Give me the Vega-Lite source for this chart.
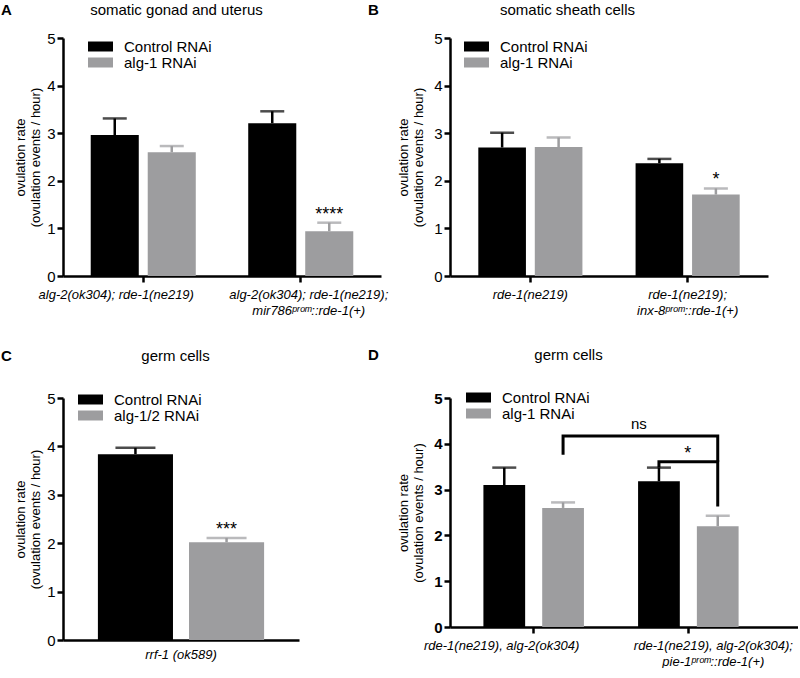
{
  "$schema": "https://vega.github.io/schema/vega-lite/v6.json",
  "padding": {"left": 1, "top": 2, "right": 0, "bottom": 0},
  "config": {
    "font": "Liberation Sans",
    "view": {"stroke": null},
    "axis": {"domainColor": "#000", "domainWidth": 2.5, "tickColor": "#000", "tickWidth": 2.5, "tickSize": 6, "labelColor": "#000", "titleColor": "#000", "titleFontWeight": "normal", "titleFontSize": 13, "grid": false},
    "title": {"fontWeight": "bold", "fontSize": 15, "color": "#000", "anchor": "start", "frame": "group", "baseline": "alphabetic", "offset": 0},
    "legend": {"labelFontSize": 15, "labelColor": "#000", "labelOffset": 16, "rowPadding": -2, "symbolStrokeWidth": 0, "symbolOpacity": 1, "symbolType": "M-2,-0.8H2V0.8H-2Z", "symbolSize": 156, "padding": 0}
  },
  "datasets": {
    "A": [
      {"g": "alg-2(ok304); rde-1(ne219)", "t": "Control RNAi", "m": 2.96, "e": 3.31},
      {"g": "alg-2(ok304); rde-1(ne219)", "t": "alg-1 RNAi", "m": 2.6, "e": 2.73},
      {"g": "alg-2(ok304); rde-1(ne219);|mir786ᵖʳᵒᵐ::rde-1(+)", "t": "Control RNAi", "m": 3.21, "e": 3.46},
      {"g": "alg-2(ok304); rde-1(ne219);|mir786ᵖʳᵒᵐ::rde-1(+)", "t": "alg-1 RNAi", "m": 0.94, "e": 1.12, "s": "****"}
    ],
    "B": [
      {"g": "rde-1(ne219)", "t": "Control RNAi", "m": 2.7, "e": 3.01},
      {"g": "rde-1(ne219)", "t": "alg-1 RNAi", "m": 2.71, "e": 2.91},
      {"g": "rde-1(ne219);|inx-8ᵖʳᵒᵐ::rde-1(+)", "t": "Control RNAi", "m": 2.37, "e": 2.46},
      {"g": "rde-1(ne219);|inx-8ᵖʳᵒᵐ::rde-1(+)", "t": "alg-1 RNAi", "m": 1.71, "e": 1.84, "s": "*"}
    ],
    "C": [
      {"g": "rrf-1 (ok589)", "t": "Control RNAi", "m": 3.84, "e": 3.97},
      {"g": "rrf-1 (ok589)", "t": "alg-1/2 RNAi", "m": 2.02, "e": 2.11, "s": "***"}
    ],
    "D": [
      {"g": "rde-1(ne219), alg-2(ok304)", "t": "Control RNAi", "m": 3.1, "e": 3.48},
      {"g": "rde-1(ne219), alg-2(ok304)", "t": "alg-1 RNAi", "m": 2.6, "e": 2.72},
      {"g": "rde-1(ne219), alg-2(ok304);|pie-1ᵖʳᵒᵐ::rde-1(+)", "t": "Control RNAi", "m": 3.18, "e": 3.48},
      {"g": "rde-1(ne219), alg-2(ok304);|pie-1ᵖʳᵒᵐ::rde-1(+)", "t": "alg-1 RNAi", "m": 2.2, "e": 2.43}
    ],
    "Dbr": [
      {"seg": "ns", "o": 1, "g": "rde-1(ne219), alg-2(ok304)", "t": "alg-1 RNAi", "y": 3.76},
      {"seg": "ns", "o": 2, "g": "rde-1(ne219), alg-2(ok304)", "t": "alg-1 RNAi", "y": 4.17},
      {"seg": "ns", "o": 3, "g": "rde-1(ne219), alg-2(ok304);|pie-1ᵖʳᵒᵐ::rde-1(+)", "t": "alg-1 RNAi", "y": 4.17},
      {"seg": "ns", "o": 4, "g": "rde-1(ne219), alg-2(ok304);|pie-1ᵖʳᵒᵐ::rde-1(+)", "t": "alg-1 RNAi", "y": 3.61},
      {"seg": "star", "o": 1, "g": "rde-1(ne219), alg-2(ok304);|pie-1ᵖʳᵒᵐ::rde-1(+)", "t": "Control RNAi", "y": 3.48},
      {"seg": "star", "o": 2, "g": "rde-1(ne219), alg-2(ok304);|pie-1ᵖʳᵒᵐ::rde-1(+)", "t": "Control RNAi", "y": 3.61},
      {"seg": "star", "o": 3, "g": "rde-1(ne219), alg-2(ok304);|pie-1ᵖʳᵒᵐ::rde-1(+)", "t": "alg-1 RNAi", "y": 3.61},
      {"seg": "star", "o": 4, "g": "rde-1(ne219), alg-2(ok304);|pie-1ᵖʳᵒᵐ::rde-1(+)", "t": "alg-1 RNAi", "y": 2.63}
    ],
    "Dsig": [
      {"g": "rde-1(ne219), alg-2(ok304);|pie-1ᵖʳᵒᵐ::rde-1(+)", "t": "Control RNAi", "y": 4.17, "s": "ns"},
      {"g": "rde-1(ne219), alg-2(ok304);|pie-1ᵖʳᵒᵐ::rde-1(+)", "t": "alg-1 RNAi", "y": 3.61, "s": "*"}
    ]
  },
  "columns": 2,
  "spacing": {"row": 122, "column": 69},
  "bounds": "flush",
  "resolve": {"scale": {"x": "independent", "y": "independent", "xOffset": "independent", "color": "independent"}, "legend": {"color": "independent"}, "axis": {"x": "independent", "y": "independent"}},
  "concat": [
    {
      "width": 318, "height": 238,
      "title": {"text": "A", "dx": -62, "dy": 20},
      "data": {"name": "A"},
      "encoding": {
        "x": {"field": "g", "type": "nominal", "sort": null, "scale": {"paddingInner": 0.333, "paddingOuter": 0.176},
          "axis": {"title": "somatic gonad and uterus", "titleFontSize": 15, "titleX": 113, "titleY": -262, "titleAlign": "center", "titleBaseline": "alphabetic",
            "labelAngle": 0, "labelFontStyle": "italic", "labelFontSize": 13, "labelExpr": "split(datum.label, '|')", "labelPadding": 6, "labelLimit": 0, "labelLineHeight": 16,
            "labelOffset": {"condition": {"test": "datum.value == 'alg-2(ok304); rde-1(ne219)'", "value": -27}, "value": 8}}},
        "xOffset": {"field": "t", "type": "nominal", "sort": ["Control RNAi", "alg-1 RNAi"], "scale": {"paddingInner": 0.157, "paddingOuter": 0}},
        "color": {"field": "t", "type": "nominal", "scale": {"domain": ["Control RNAi", "alg-1 RNAi"], "range": ["#000000", "#9d9d9f"]},
          "legend": {"title": null, "orient": "none", "legendX": 30, "legendY": 1}}
      },
      "layer": [
        {"mark": "bar", "encoding": {"y": {"field": "m", "type": "quantitative", "scale": {"domain": [0, 5], "nice": false},
          "axis": {"values": [0, 1, 2, 3, 4, 5], "title": ["ovulation rate", "(ovulation events / hour)"], "labelFontSize": 15, "titlePadding": 4}}}},
        {"mark": {"type": "rule", "strokeWidth": 2.5}, "encoding": {"y": {"field": "m", "type": "quantitative"}, "y2": {"field": "e"}}},
        {"mark": {"type": "tick", "thickness": 2.5, "size": 24}, "encoding": {"y": {"field": "e", "type": "quantitative"}}},
        {"transform": [{"filter": "datum.s"}], "mark": {"type": "text", "baseline": "bottom", "dy": 1, "fontSize": 18}, "encoding": {"y": {"field": "e", "type": "quantitative"}, "text": {"field": "s"}, "color": {"value": "#000"}}}
      ]
    },
    {
      "width": 318, "height": 238,
      "title": {"text": "B", "dx": -82, "dy": 20},
      "data": {"name": "B"},
      "encoding": {
        "x": {"field": "g", "type": "nominal", "sort": null, "scale": {"paddingInner": 0.338, "paddingOuter": 0.18},
          "axis": {"title": "somatic sheath cells", "titleFontSize": 15, "titleX": 117, "titleY": -262, "titleAlign": "center", "titleBaseline": "alphabetic",
            "labelAngle": 0, "labelFontStyle": "italic", "labelFontSize": 13, "labelExpr": "split(datum.label, '|')", "labelPadding": 6, "labelLimit": 0, "labelLineHeight": 16}},
        "xOffset": {"field": "t", "type": "nominal", "sort": ["Control RNAi", "alg-1 RNAi"], "scale": {"paddingInner": 0.157, "paddingOuter": 0}},
        "color": {"field": "t", "type": "nominal", "scale": {"domain": ["Control RNAi", "alg-1 RNAi"], "range": ["#000000", "#9d9d9f"]},
          "legend": {"title": null, "orient": "none", "legendX": 19, "legendY": 1}}
      },
      "layer": [
        {"mark": "bar", "encoding": {"y": {"field": "m", "type": "quantitative", "scale": {"domain": [0, 5], "nice": false},
          "axis": {"values": [0, 1, 2, 3, 4, 5], "title": ["ovulation rate", "(ovulation events / hour)"], "labelFontSize": 15, "titlePadding": 8}}}},
        {"mark": {"type": "rule", "strokeWidth": 2.5}, "encoding": {"y": {"field": "m", "type": "quantitative"}, "y2": {"field": "e"}}},
        {"mark": {"type": "tick", "thickness": 2.5, "size": 24}, "encoding": {"y": {"field": "e", "type": "quantitative"}}},
        {"transform": [{"filter": "datum.s"}], "mark": {"type": "text", "baseline": "bottom", "dy": 1, "fontSize": 18}, "encoding": {"y": {"field": "e", "type": "quantitative"}, "text": {"field": "s"}, "color": {"value": "#000"}}}
      ]
    },
    {
      "width": 236, "height": 242,
      "title": {"text": "C", "dx": -62, "dy": 20},
      "data": {"name": "C"},
      "encoding": {
        "x": {"field": "g", "type": "nominal", "sort": null, "scale": {"paddingInner": 0, "paddingOuter": 0.21},
          "axis": {"title": "germ cells", "titleFontSize": 15, "titleX": 112, "titleY": -280, "titleAlign": "center", "titleBaseline": "alphabetic",
            "labelAngle": 0, "labelFontStyle": "italic", "labelFontSize": 13, "labelPadding": 8, "labelLimit": 0, "ticks": false}},
        "xOffset": {"field": "t", "type": "nominal", "sort": ["Control RNAi", "alg-1/2 RNAi"], "scale": {"paddingInner": 0.176, "paddingOuter": 0}},
        "color": {"field": "t", "type": "nominal", "scale": {"domain": ["Control RNAi", "alg-1/2 RNAi"], "range": ["#000000", "#9d9d9f"]},
          "legend": {"title": null, "orient": "none", "legendX": 20, "legendY": -6, "rowPadding": 0}}
      },
      "layer": [
        {"mark": "bar", "encoding": {"y": {"field": "m", "type": "quantitative", "scale": {"domain": [0, 5], "nice": false},
          "axis": {"values": [0, 1, 2, 3, 4, 5], "title": ["ovulation rate", "(ovulation events / hour)"], "labelFontSize": 15, "titlePadding": 4}}}},
        {"mark": {"type": "rule", "strokeWidth": 2.5}, "encoding": {"y": {"field": "m", "type": "quantitative"}, "y2": {"field": "e"}}},
        {"mark": {"type": "tick", "thickness": 2.5, "size": 40}, "encoding": {"y": {"field": "e", "type": "quantitative"}}},
        {"transform": [{"filter": "datum.s"}], "mark": {"type": "text", "baseline": "bottom", "dy": 1, "fontSize": 18}, "encoding": {"y": {"field": "e", "type": "quantitative"}, "text": {"field": "s"}, "color": {"value": "#000"}}}
      ]
    },
    {
      "width": 348, "height": 229,
      "title": {"text": "D", "dx": -82, "dy": 20},
      "encoding": {
        "x": {"field": "g", "type": "nominal", "sort": ["rde-1(ne219), alg-2(ok304)", "rde-1(ne219), alg-2(ok304);|pie-1ᵖʳᵒᵐ::rde-1(+)"], "scale": {"paddingInner": 0.35, "paddingOuter": 0.3, "align": 0.36},
          "axis": {"title": "germ cells", "titleFontSize": 15, "titleX": 118, "titleY": -268, "titleAlign": "center", "titleBaseline": "alphabetic",
            "labelAngle": 0, "labelFontStyle": "italic", "labelFontSize": 13, "labelExpr": "split(datum.label, '|')", "labelPadding": 6, "labelLimit": 0, "labelLineHeight": 16,
            "labelOffset": {"condition": {"test": "datum.value == 'rde-1(ne219), alg-2(ok304)'", "value": -32}, "value": 25}}},
        "xOffset": {"field": "t", "type": "nominal", "sort": ["Control RNAi", "alg-1 RNAi"], "scale": {"paddingInner": 0.29, "paddingOuter": 0}}
      },
      "layer": [
        {"data": {"name": "D"}, "mark": "bar", "encoding": {"y": {"field": "m", "type": "quantitative", "scale": {"domain": [0, 5], "nice": false},
          "axis": {"values": [0, 1, 2, 3, 4, 5], "title": ["ovulation rate", "(ovulation events / hour)"], "labelFontSize": 15, "labelFontWeight": "bold", "titlePadding": 8}},
          "color": {"field": "t", "type": "nominal", "scale": {"domain": ["Control RNAi", "alg-1 RNAi"], "range": ["#000000", "#9d9d9f"]},
          "legend": {"title": null, "orient": "none", "legendX": 21, "legendY": -8, "rowPadding": 0}}}},
        {"data": {"name": "D"}, "mark": {"type": "rule", "strokeWidth": 2.5}, "encoding": {"y": {"field": "m", "type": "quantitative"}, "y2": {"field": "e"}, "color": {"field": "t", "type": "nominal"}}},
        {"data": {"name": "D"}, "mark": {"type": "tick", "thickness": 2.5, "size": 24}, "encoding": {"y": {"field": "e", "type": "quantitative"}, "color": {"field": "t", "type": "nominal"}}},
        {"data": {"name": "Dbr"}, "mark": {"type": "line", "strokeWidth": 3, "color": "#000", "interpolate": "linear"}, "encoding": {"y": {"field": "y", "type": "quantitative"}, "detail": {"field": "seg"}, "order": {"field": "o"}}},
        {"data": {"name": "Dsig"}, "transform": [{"filter": "datum.s == 'ns'"}], "mark": {"type": "text", "baseline": "bottom", "dy": -4, "dx": -20, "fontSize": 15, "color": "#000"}, "encoding": {"y": {"field": "y", "type": "quantitative"}, "text": {"field": "s"}}},
        {"data": {"name": "Dsig"}, "transform": [{"filter": "datum.s == '*'"}], "mark": {"type": "text", "baseline": "bottom", "dy": 1, "dx": -30, "fontSize": 18, "color": "#000"}, "encoding": {"y": {"field": "y", "type": "quantitative"}, "text": {"field": "s"}}}
      ]
    }
  ]
}
